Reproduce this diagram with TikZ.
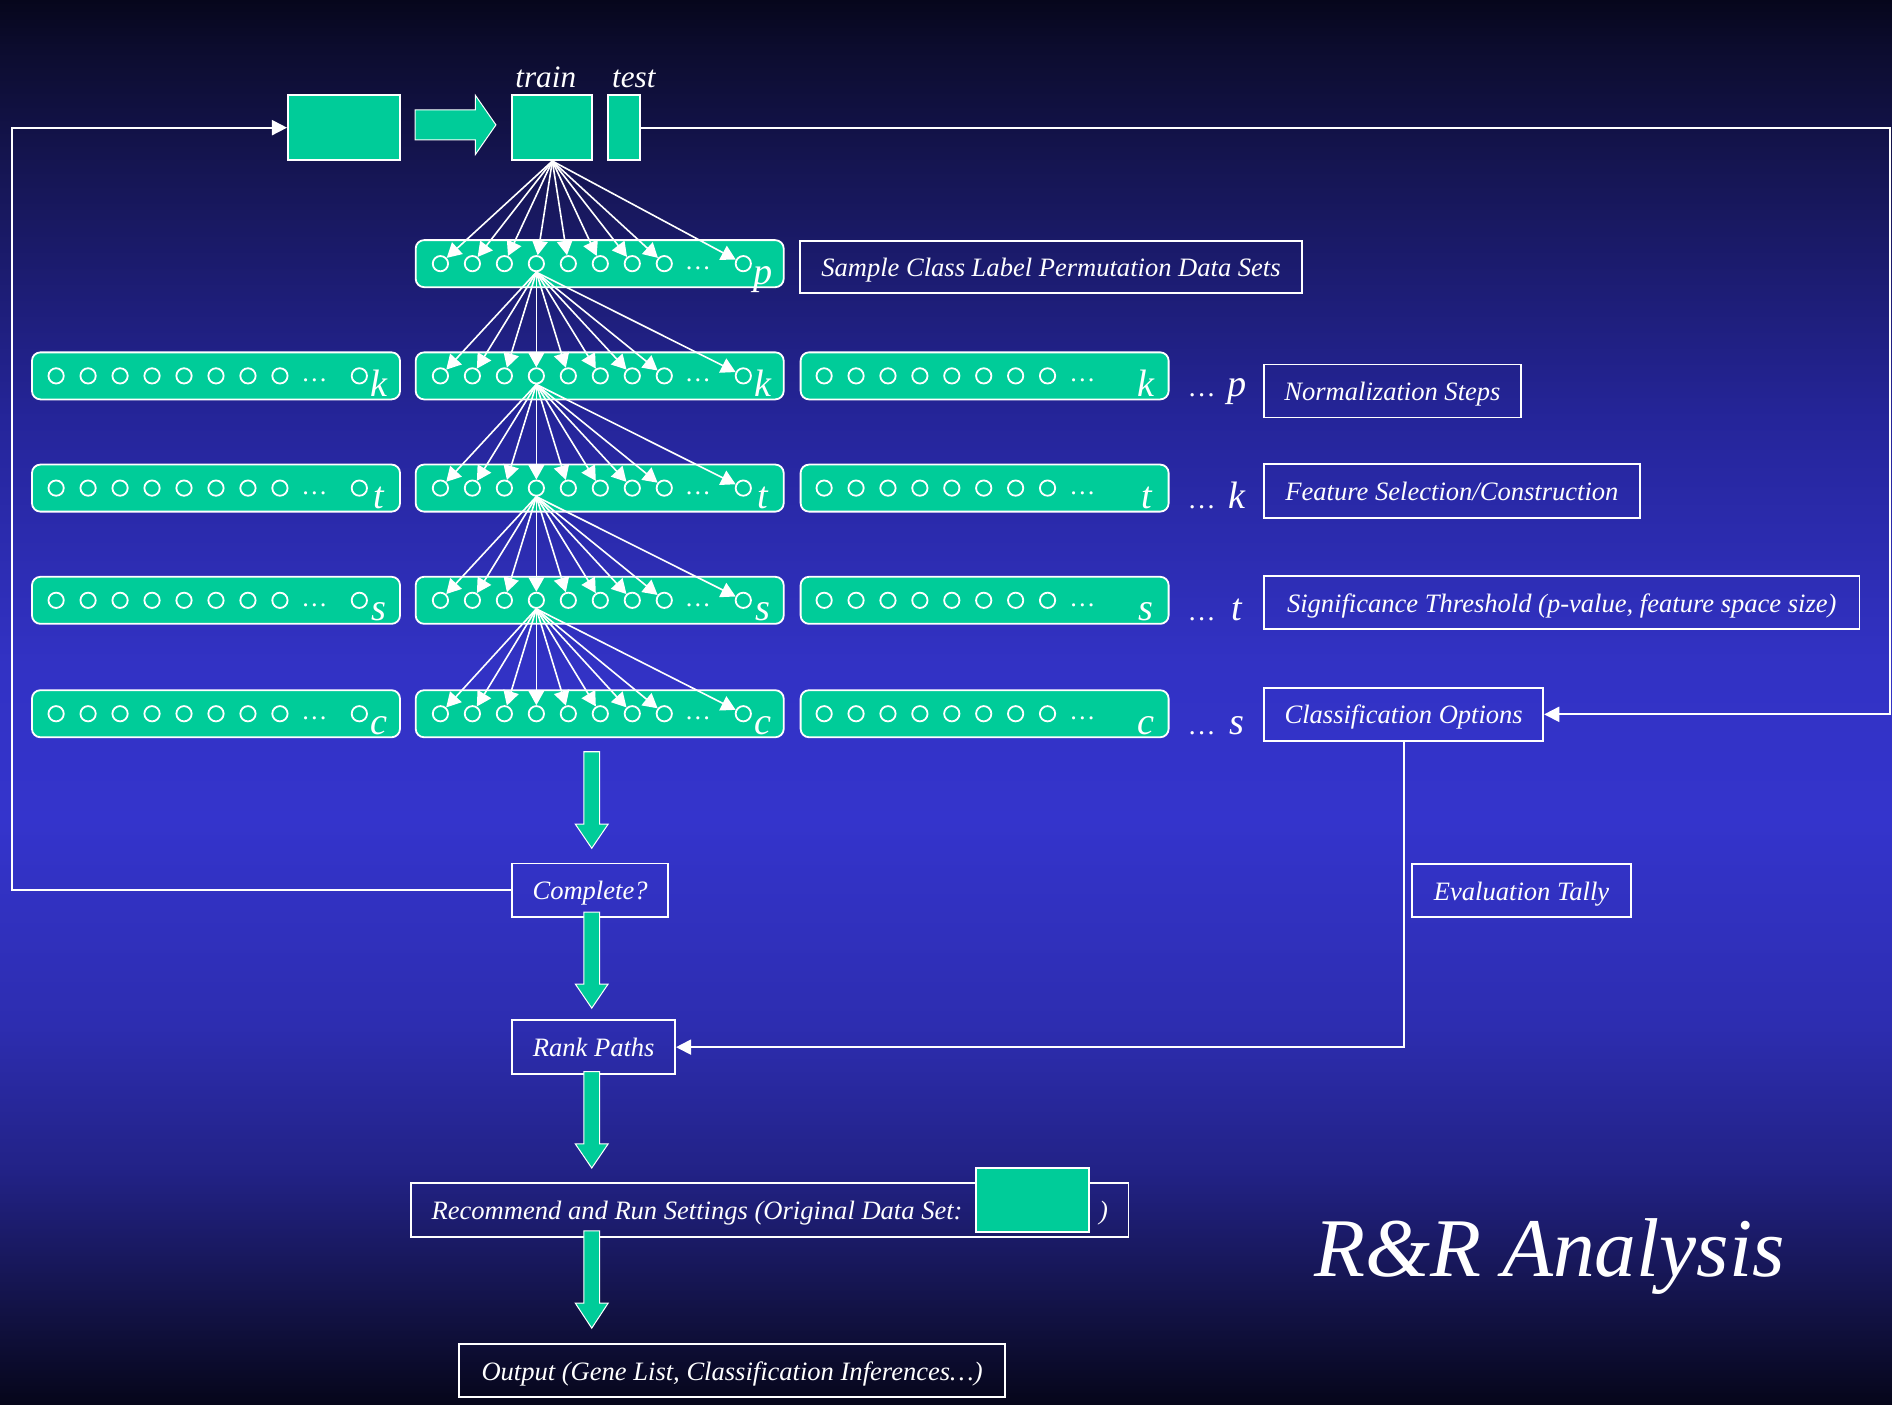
\documentclass[tikz,border=0pt]{standalone}
\usepackage{fontspec}
\setmainfont{Liberation Serif}
\usetikzlibrary{arrows.meta}

\definecolor{sea}{HTML}{00CC99}
\definecolor{bgA}{HTML}{06061C}
\definecolor{bgB}{HTML}{0C0C2E}
\definecolor{bgC}{HTML}{161656}
\definecolor{bgD}{HTML}{25259A}
\definecolor{bgE}{HTML}{3232C4}
\definecolor{bgF}{HTML}{3434CC}
\definecolor{bgG}{HTML}{2D2DB0}
\definecolor{bgH}{HTML}{222286}
\definecolor{bgI}{HTML}{131348}
\definecolor{bgJ}{HTML}{06061A}

\pgfdeclareverticalshading{slidebg}{100bp}{color(0bp)=(bgJ); color(25bp)=(bgJ);
  color(28.6bp)=(bgI); color(33.3bp)=(bgH); color(38.5bp)=(bgG); color(45.8bp)=(bgF);
  color(51.4bp)=(bgE); color(60bp)=(bgD); color(68.6bp)=(bgC); color(73.3bp)=(bgB);
  color(75bp)=(bgA); color(100bp)=(bgA)}

% vertical block arrow: x, top of shaft, base of head, tip
\newcommand{\vblock}[4]{%
  \draw[blockarrow] ({#1-6.6},#2) -- ({#1+6.6},#2) -- ({#1+6.6},#3) -- ({#1+13.6},#3)
    -- (#1,#4) -- ({#1-13.6},#3) -- ({#1-6.6},#3) -- cycle;}

\begin{document}
\begin{tikzpicture}[x=0.6pt,y=-0.6pt,
  lbl/.style={draw=white,line width=0.9pt,inner sep=0pt,text=white,
    font=\fontsize{13.2}{15}\selectfont\itshape,text height=11pt,text depth=1.4pt},
  rowbox/.style={draw=white,line width=0.9pt,fill=sea,rounded corners=4.2pt,
    minimum width=183pt,minimum height=23.4pt,inner sep=0pt},
  ring/.style={circle,draw=white,line width=0.9pt,minimum size=7.6pt,inner sep=0pt},
  seabox/.style={draw=white,line width=1pt,fill=sea,inner sep=0pt},
  link/.style={draw=white,line width=0.9pt},
  linkarrow/.style={link,-{Triangle[length=7.5pt,width=7.5pt]}},
  fan/.style={draw=white,line width=0.8pt,-{Triangle[length=7.2pt,width=7.8pt]}},
  blockarrow/.style={fill=sea,draw=white,line width=0.5pt},
  ell/.style={text=white,font=\fontsize{13}{15}\selectfont,anchor=base,inner sep=0pt},
  idx/.style={text=white,font=\fontsize{19}{21}\selectfont\itshape,anchor=base,inner sep=0pt},
  head/.style={text=white,font=\fontsize{15.5}{17}\selectfont\itshape,anchor=base,inner sep=0pt},
]
% background
\shade[shading=slidebg] (0,0) rectangle (1568,1164);
\useasboundingbox (0,0) rectangle (1568,1164);

% data set split into train / test
\node[seabox,minimum width=55.9pt,minimum height=32.2pt] (src) at (285.3,105.8) {};
\node[seabox,minimum width=39.9pt,minimum height=32.2pt] (train) at (457.75,105.8) {};
\node[seabox,minimum width=15.9pt,minimum height=32.2pt] (test) at (517.25,105.8) {};
\node[head] (trainlbl) at (452.3,72.4) {train};
\node[head] (testlbl) at (525.3,72.4) {test};
\draw[blockarrow] (344,91) -- (394,91) -- (394,79) -- (411,103.5) -- (394,128)
  -- (394,116) -- (344,116) -- cycle;

% middle column of parameter rows
\foreach \r/\yc in {p/218.5,k/311.5,t/404.5,s/497.5,c/591.5}{
  \node[rowbox] (M-\r) at (497,\yc) {};
  \foreach \i in {1,...,8}
    \node[ring] (M-\r-\i) at ({365+26.5*(\i-1)},\yc) {};
  \node[ring] (M-\r-9) at (616,\yc) {};
  \node[ell] (M-\r-dots) at (578.5,{\yc+5}) {…};
  \node[idx] (M-\r-var) at (632,{\yc+17}) {\r};
}

% left and right columns
\foreach \r/\yc/\prev in {k/311.5/p,t/404.5/k,s/497.5/t,c/591.5/s}{
  \node[rowbox] (L-\r) at (179,\yc) {};
  \foreach \i in {1,...,8}
    \node[ring] (L-\r-\i) at ({46.5+26.5*(\i-1)},\yc) {};
  \node[ring] (L-\r-9) at (297.8,\yc) {};
  \node[ell] (L-\r-dots) at (260.5,{\yc+5}) {…};
  \node[idx] (L-\r-var) at (314,{\yc+17}) {\r};
  \node[rowbox] (R-\r) at (816,\yc) {};
  \foreach \i in {1,...,8}
    \node[ring] (R-\r-\i) at ({683+26.45*(\i-1)},\yc) {};
  \node[ell] (R-\r-dots) at (897,{\yc+5}) {…};
  \node[idx] (R-\r-var) at (950,{\yc+17}) {\r};
  \node[ell,font=\fontsize{14}{16}\selectfont] (more-\r-dots) at (996,{\yc+17}) {…};
  \node[idx] (more-\r) at (1025,{\yc+17}) {\prev};
}

% fans of paths
\foreach \i in {1,...,9} \draw[fan] (train.south) -- (M-p-\i);
\foreach \r/\prev in {k/p,t/k,s/t,c/s}
  \foreach \i in {1,...,9} \draw[fan] (M-\prev-4.south) -- (M-\r-\i);

% step labels
\node[lbl,minimum width=249.6pt,minimum height=25.8pt] (perm) at (871,221)
  {Sample Class Label Permutation Data Sets};
\node[lbl,minimum width=127.8pt,minimum height=26.4pt] (norm) at (1154,324)
  {Normalization Steps};
\node[lbl,minimum width=186.8pt,minimum height=26.6pt] (feat) at (1203.3,406.8)
  {Feature Selection/Construction};
\node[lbl,minimum width=296pt,minimum height=26.4pt] (sig) at (1294.3,499.5)
  {Significance Threshold (p-value, feature space size)};
\node[lbl,minimum width=138.8pt,minimum height=26.4pt] (class) at (1163.3,592)
  {Classification Options};
\node[lbl,minimum width=109.2pt,minimum height=26.4pt] (eval) at (1261,738)
  {Evaluation Tally};
\node[lbl,minimum width=77.4pt,minimum height=26.7pt] (complete) at (489,737.8)
  {Complete?};
\node[lbl,minimum width=81pt,minimum height=26.7pt] (rank) at (492,867.8)
  {Rank Paths};
\node[lbl,minimum width=357pt,minimum height=26.9pt] (rec) at (637.8,1003) {};
\node[lbl,draw=none,anchor=west] (rectext) at (357,1003)
  {Recommend and Run Settings (Original Data Set:};
\node[lbl,draw=none] (recclose) at (914.6,1003) {)};
\node[seabox,minimum width=56.3pt,minimum height=32pt] (orig) at (855.4,994.4) {};
\node[lbl,minimum width=271.6pt,minimum height=26.5pt] (out) at (606.7,1135.7)
  {Output (Gene List, Classification Inferences…)};

% loops and feedback
\coordinate (rtop) at (1566,105.8);
\coordinate (rbot) at (1566,592);
\draw[linkarrow] (test.east) -- (rtop) -- (rbot) -- (class.east);
\coordinate (lbot) at (10,737.8);
\coordinate (ltop) at (10,105.8);
\draw[linkarrow] (complete.west) -- (lbot) -- (ltop) -- (src.west);
\draw[linkarrow] (class.south) |- (rank.east);

% main flow
\vblock{490.4}{623}{683}{703}
\vblock{490.4}{756}{815.5}{835.5}
\vblock{490.4}{888}{948}{968}
\vblock{490.4}{1020}{1080}{1100.7}

% title
\node[anchor=base west,inner sep=0pt,text=white,font=\fontsize{41.5}{45}\selectfont\itshape]
  (title) at (1089,1057.6) {R\&R Analysis};
\end{tikzpicture}
\end{document}
